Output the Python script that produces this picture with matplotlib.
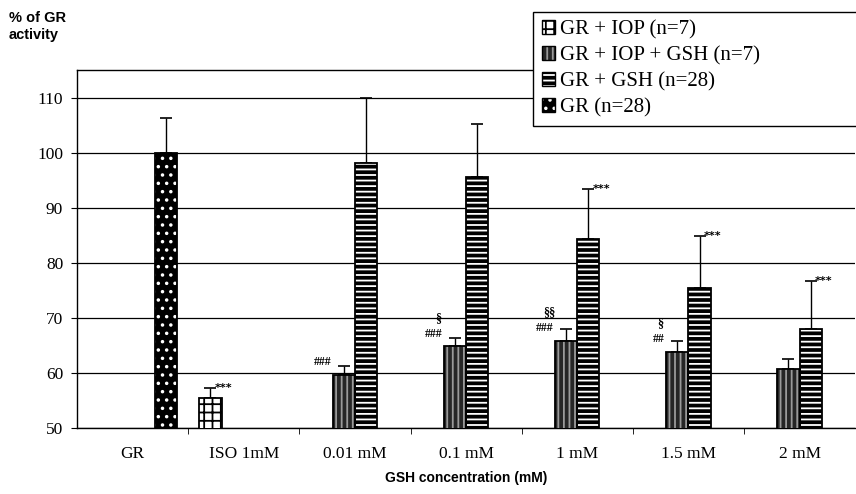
import numpy as np
import matplotlib
matplotlib.use('Agg')
import matplotlib.pyplot as plt
from matplotlib.patches import Patch
from matplotlib.legend_handler import HandlerTuple

plt.rcParams['hatch.linewidth'] = 1.3

# data
categories = ['GR', 'ISO 1mM', '0.01 mM', '0.1 mM', '1 mM', '1.5 mM', '2 mM']
nan = np.nan
gr_iop = [nan, 55.5, nan, nan, nan, nan, nan]
gr_iop_err = [0, 1.7, 0, 0, 0, 0, 0]
gr_iop_gsh = [nan, nan, 59.6, 64.8, 65.8, 63.8, 60.7]
gr_iop_gsh_err = [0, 0, 1.7, 1.5, 2.2, 1.9, 1.8]
gr_gsh = [nan, nan, 98.1, 95.6, 84.3, 75.4, 68.0]
gr_gsh_err = [0, 0, 11.8, 9.6, 9.1, 9.4, 8.6]
gr_only = [100, nan, nan, nan, nan, nan, nan]
gr_only_err = [6.3, 0, 0, 0, 0, 0, 0]

star_iop = ['', '***', '', '', '', '', '']
star_gsh = ['', '', '', '', '***', '***', '***']
hash_marks = ['', '', '###', '###', '###', '##', '']
sect_marks = ['', '', '', '\u00a7', '\u00a7\u00a7', '\u00a7', '']

fig = plt.figure(figsize=(8.56, 4.94), dpi=100)
ax = fig.add_axes([0.09, 0.134, 0.909, 0.724])

x = np.arange(len(categories))
w = 0.2

# (values, errors, face, hatch colour, hatch)
series = [
    (gr_iop, gr_iop_err, 'white', 'black', '++'),
    (gr_iop_gsh, gr_iop_gsh_err, '#262626', '#9a9a9a', '|||'),
    (gr_gsh, gr_gsh_err, 'black', 'white', '---'),
    (gr_only, gr_only_err, 'black', 'white', '..'),
]
offsets = [-1.5 * w, -0.5 * w, 0.5 * w, 1.5 * w]

for (vals, errs, fc, hc, hatch), off in zip(series, offsets):
    vals = np.array(vals, dtype=float)
    ax.bar(x + off, vals, width=w, color=fc, edgecolor=hc, hatch=hatch, linewidth=0, zorder=3)
    ax.bar(x + off, vals, width=w, color='none', edgecolor='black', linewidth=1.3, zorder=4)
    ok = ~np.isnan(vals)
    errs = np.array(errs, dtype=float)
    ax.errorbar((x + off)[ok], vals[ok], yerr=[np.zeros(ok.sum()), errs[ok]],
                fmt='none', ecolor='black', elinewidth=1, capsize=4, capthick=1.2, zorder=2)

# significance marks
for i in range(len(categories)):
    if star_iop[i]:
        ax.text(i + offsets[0] + 0.04, gr_iop[i] + gr_iop_err[i], star_iop[i],
                fontsize=8, fontweight='bold', va='center', ha='left', zorder=5)
    if star_gsh[i]:
        ax.text(i + offsets[2] + 0.04, gr_gsh[i] + gr_gsh_err[i], star_gsh[i],
                fontsize=8, fontweight='bold', va='center', ha='left', zorder=5)
    if hash_marks[i]:
        ax.text(i - 0.215, gr_iop_gsh[i] + 2.3, hash_marks[i], fontsize=8.5,
                fontweight='bold', family='Liberation Serif', va='center', ha='right', zorder=5)
    if sect_marks[i]:
        ax.text(i - 0.25, gr_iop_gsh[i] + 5.2, sect_marks[i], fontsize=9,
                fontweight='bold', family='Liberation Serif', va='center', ha='center', zorder=5)

ax.set_xlim(-0.5, len(categories) - 0.5)
ax.set_ylim(50, 115)
ax.set_yticks(np.arange(50, 111, 10))
ax.set_xticks(x)
ax.set_xticklabels(categories, family='Liberation Serif', fontsize=12.5)
ax.set_xticks(x[:-1] + 0.5, minor=True)
ax.tick_params(axis='x', which='major', length=0, pad=13)
ax.tick_params(axis='x', which='minor', length=4, direction='out')
ax.tick_params(axis='y', length=4, direction='out', pad=6)
for lab in ax.get_yticklabels():
    lab.set_family('Liberation Serif')
    lab.set_fontsize(12.5)
ax.yaxis.grid(True, color='black', linewidth=0.9, zorder=0)
ax.set_axisbelow(True)
for s in ['top', 'left', 'bottom']:
    ax.spines[s].set_linewidth(1.0)
ax.spines['right'].set_visible(False)

fig.text(0.01, 0.978, '% of GR\nactivity', fontsize=10.5, fontweight='bold',
         family='Liberation Sans', va='top', ha='left', linespacing=1.25)
fig.text(0.545, 0.033, 'GSH concentration (mM)', fontsize=10, fontweight='bold',
         family='Liberation Sans', ha='center', va='center')

# legend
handles = []
labels = ['GR + IOP (n=7)', 'GR + IOP + GSH (n=7)', 'GR + GSH (n=28)', 'GR (n=28)']
for vals, errs, fc, hc, hatch in series:
    handles.append((Patch(facecolor=fc, edgecolor=hc, hatch=hatch, linewidth=0),
                    Patch(facecolor='none', edgecolor='black', linewidth=1)))
leg = fig.legend(handles, labels, loc='upper left', bbox_to_anchor=(0.623, 0.747, 0.39, 0.229),
                 mode='expand', frameon=True, fancybox=False, edgecolor='black',
                 prop={'family': 'Liberation Serif', 'size': 15},
                 handler_map={tuple: HandlerTuple(ndivide=1)},
                 handlelength=0.65, handleheight=0.65, handletextpad=0.25,
                 labelspacing=0.32, borderpad=0.4, borderaxespad=0)
leg.get_frame().set_linewidth(1.0)
leg.get_frame().set_alpha(1)

fig.savefig('out.png', dpi=100)
